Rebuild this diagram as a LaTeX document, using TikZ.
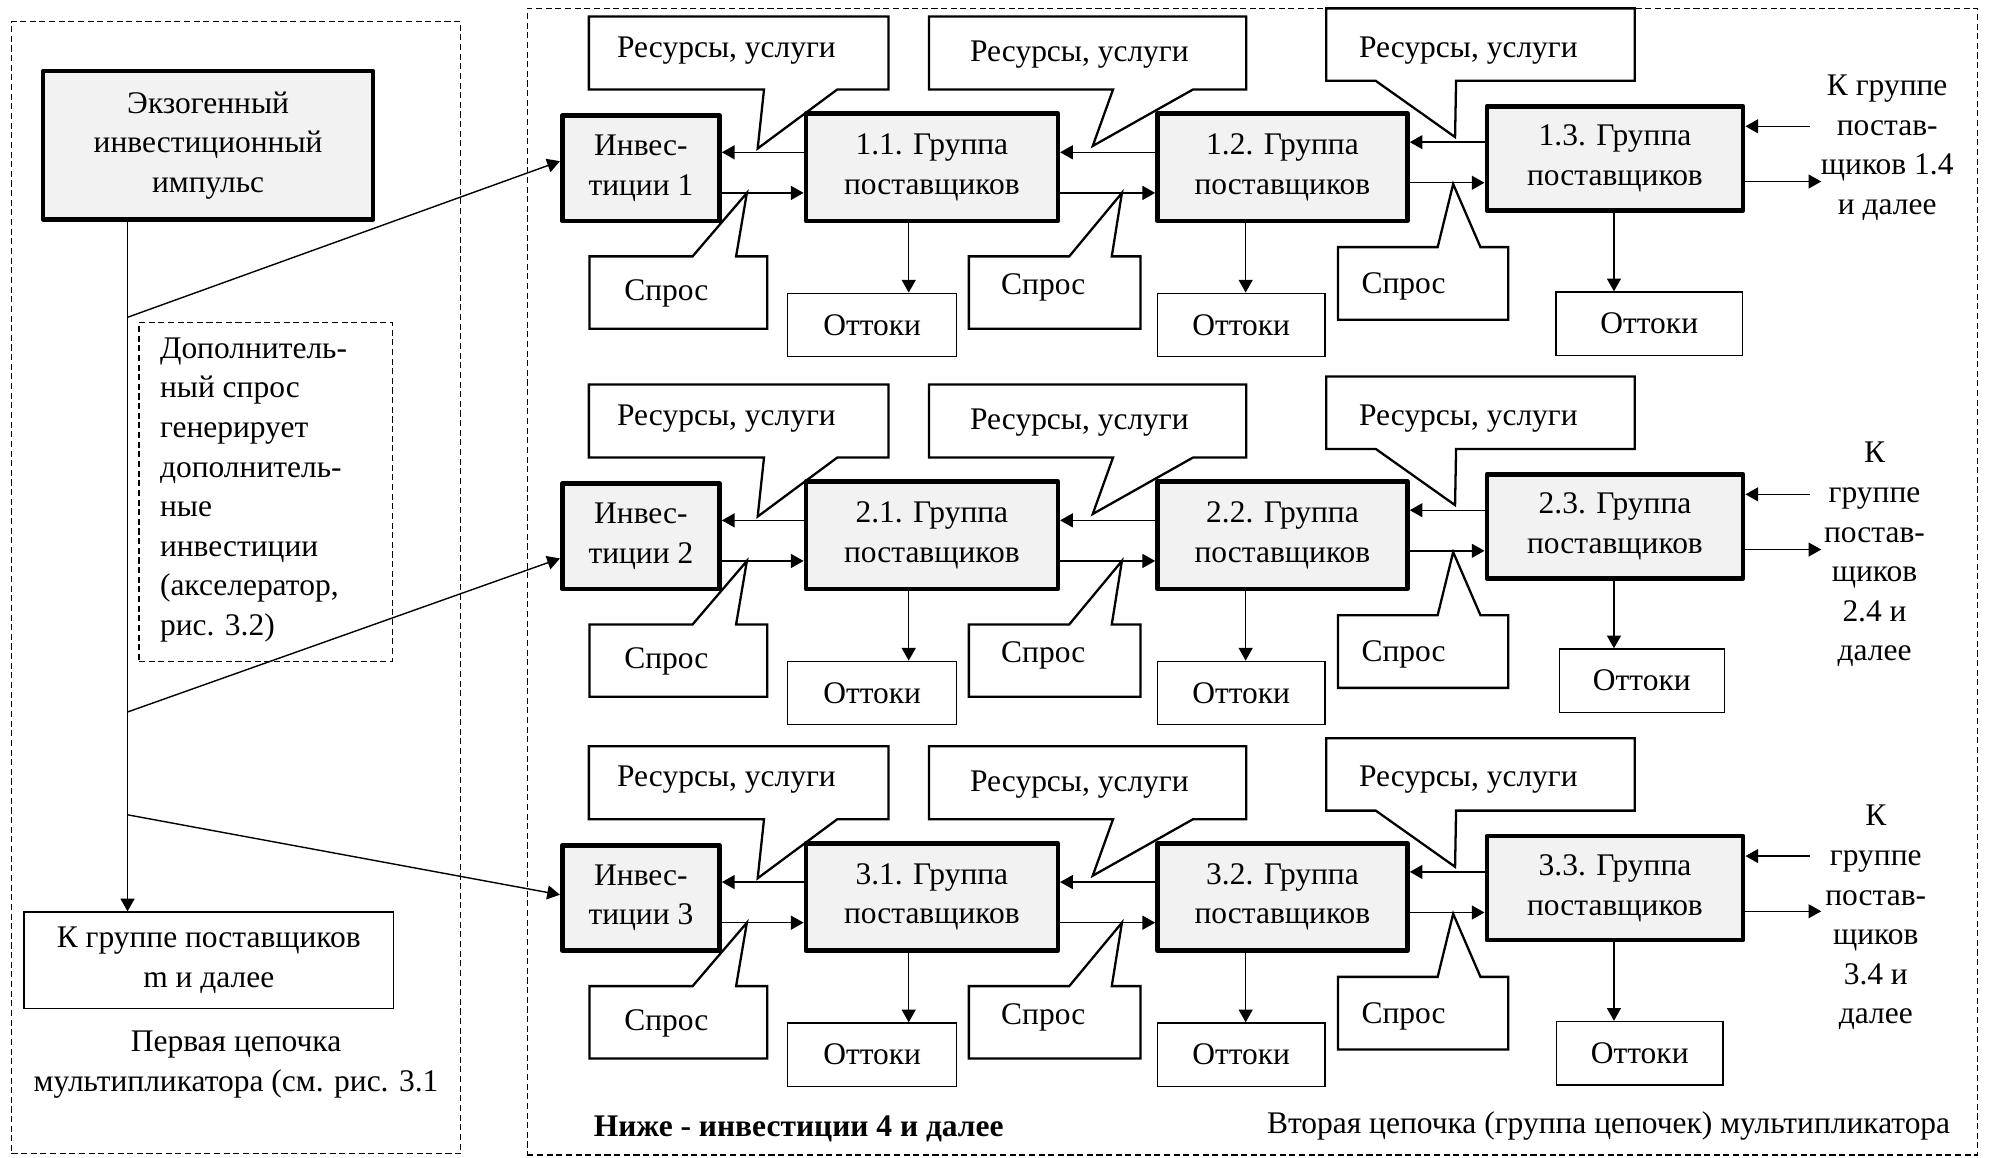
\documentclass[tikz,border=0pt]{standalone}
\usepackage{fontspec}
\setmainfont{Liberation Serif}
\usetikzlibrary{arrows.meta}
\tikzset{
  thickbox/.style={draw, line width=1.8pt, fill=gray!10, inner sep=0pt, align=center, line join=round},
  thinbox/.style={draw, line width=0.5pt, fill=white, inner sep=0pt, align=center},
  calloutline/.style={draw, line width=0.9pt, fill=white, line join=miter},
  dashbox/.style={draw, line width=0.45pt, dash pattern=on 2.4pt off 1.4pt, inner sep=0pt},
  arr/.style={line width=0.55pt, -{Triangle[length=5pt,width=5.5pt]}},
  txt/.style={inner sep=0pt, align=center},
}
% #1 row, #2 yshift, #3 centre of outflow box 3, #4 its width, #5 centre of right text, #6 right text
\newcommand{\chainrow}[6]{%
\begin{scope}[yshift=#2]
  % callouts "resources"
  \draw[calloutline] (464,13) -- (700,13) -- (700,70.5) -- (659.7,70.5) -- (597,117) -- (602,70.5) -- (464,70.5) -- cycle;
  \node[txt] (ra#1) at (572.4,39.5) {Ресурсы, услуги};
  \draw[calloutline] (732,13) -- (982,13) -- (982,70.5) -- (940,70.5) -- (861,115) -- (877,70.5) -- (732,70.5) -- cycle;
  \node[txt] (rb#1) at (850.5,43) {Ресурсы, услуги};
  \draw[calloutline] (1045,6.6) -- (1288,6.6) -- (1288,63.7) -- (1147.3,63.7) -- (1146.5,108) -- (1084,63.7) -- (1045,63.7) -- cycle;
  \node[txt] (rc#1) at (1157,39.5) {Ресурсы, услуги};
  % callouts "demand"
  \draw[calloutline] (464.5,202) -- (545.7,202) -- (588.5,152) -- (580,202) -- (604.5,202) -- (604.5,259) -- (464.5,259) -- cycle;
  \node[txt] (sa#1) at (525,231) {Спрос};
  \draw[calloutline] (763.4,202) -- (842.5,202) -- (884,152) -- (876,202) -- (898.6,202) -- (898.6,259) -- (763.4,259) -- cycle;
  \node[txt] (sb#1) at (822,226.5) {Спрос};
  \draw[calloutline] (1054.3,194.7) -- (1132.8,194.7) -- (1145,145) -- (1166.5,194.7) -- (1188.4,194.7) -- (1188.4,252) -- (1054.3,252) -- cycle;
  \node[txt] (sc#1) at (1106,226) {Спрос};
  % main boxes
  \node[thickbox, minimum width=62pt, minimum height=41.5pt] (inv#1) at (505,132.5) {Инвес-\\тиции #1};
  \node[thickbox, minimum width=99.25pt, minimum height=42.25pt] (g#11) at (734.25,131.75) {#1.1. Группа\\поставщиков};
  \node[thickbox, minimum width=98.5pt, minimum height=42.25pt] (g#12) at (1010.5,131.75) {#1.2. Группа\\поставщиков};
  \node[thickbox, minimum width=101pt, minimum height=41.05pt] (g#13) at (1272.5,124.75) {#1.3. Группа\\поставщиков};
  % outflows
  \node[thinbox, minimum width=66.5pt, minimum height=25pt] (o#11) at (687.2,256) {Оттоки};
  \node[thinbox, minimum width=66pt, minimum height=25pt] (o#12) at (978,256) {Оттоки};
  \node[thinbox, minimum width=#4, minimum height=25pt] (o#13) at #3 {Оттоки};
  % right text
  \node[txt] (k#1) at #5 {#6};
  \coordinate (kin#1) at (1426,99.5);
  \coordinate (kout#1) at (1435,143);
  % arrows between boxes
  \draw[arr] (g#11.west |- 0,120) -- (inv#1.east |- 0,120);
  \draw[arr] (inv#1.east |- 0,152) -- (g#11.west |- 0,152);
  \draw[arr] (g#12.west |- 0,120) -- (g#11.east |- 0,120);
  \draw[arr] (g#11.east |- 0,152) -- (g#12.west |- 0,152);
  \draw[arr] (g#13.west |- 0,112) -- (g#12.east |- 0,112);
  \draw[arr] (g#12.east |- 0,144) -- (g#13.west |- 0,144);
  \draw[arr] (g#11.south -| 716,0) -- (o#11.north -| 716,0);
  \draw[arr] (g#12.south -| 981.5,0) -- (o#12.north -| 981.5,0);
  \draw[arr] (g#13.south -| 1271.7,0) -- (o#13.north -| 1271.7,0);
  \draw[arr] (kin#1) -- (g#13.east |- kin#1);
  \draw[arr] (g#13.east |- kout#1) -- (kout#1);
\end{scope}}

\begin{document}
\begin{tikzpicture}[x=0.5pt, y=-0.5pt, font=\fontsize{12.4pt}{15.6pt}\selectfont]
\useasboundingbox (0,0) rectangle (1568,912);

% frames
\node[dashbox, minimum width=177pt, minimum height=446pt] (leftframe) at (186,463) {};
\node[dashbox, minimum width=571.25pt, minimum height=451.7pt] (rightframe) at (986.75,458.3) {};

% left column
\node[thickbox, minimum width=130pt, minimum height=58.5pt] (exo) at (164,114.5) {Экзогенный\\инвестиционный\\импульс};
\node[dashbox, minimum width=99.75pt, minimum height=133.5pt] (acc) at (209.25,387.5) {};
\node[txt, anchor=west, align=left] (acctext) at (125.7,386) {Дополнитель-\\ный спрос\\генерирует\\дополнитель-\\ные\\инвестиции\\(акселератор,\\рис. 3.2)};
\node[thinbox, minimum width=145.5pt, minimum height=37.9pt] (kgm) at (164.5,756.5) {К группе поставщиков\\m и далее};
\node[txt] (firstchain) at (186,839) {Первая цепочка\\мультипликатора (см. рис. 3.1};

% chains
\chainrow{1}{0pt}{(1299.5,255)}{73.5pt}{(1487,116.5)}{К группе\\постав-\\щиков 1.4\\и далее}
\chainrow{2}{-145pt}{(1293.65,246.3)}{65.15pt}{(1477,147)}{К\\группе\\постав-\\щиков\\2.4 и\\далее}
\chainrow{3}{-287.5pt}{(1292,254.8)}{65.65pt}{(1478,148)}{К\\группе\\постав-\\щиков\\3.4 и\\далее}

% trunk and investment arrows
\draw[arr] (exo.south -| 100.5,0) -- (kgm.north -| 100.5,0);
\coordinate (j1) at (100.5,250);
\coordinate (j2) at (100.5,561);
\coordinate (j3) at (100.5,642);
\draw[arr] (j1) -- (inv1.west |- 0,127);
\draw[arr] (j2) -- (inv2.west |- 0,440);
\draw[arr] (j3) -- (inv3.west |- 0,705);

% captions
\node[txt, font=\fontsize{12.4pt}{15.6pt}\selectfont\bfseries] (below) at (629.3,889.8) {Ниже - инвестиции 4 и далее};
\node[txt] (secondchain) at (1267.5,887) {Вторая цепочка (группа цепочек) мультипликатора};
\end{tikzpicture}
\end{document}
